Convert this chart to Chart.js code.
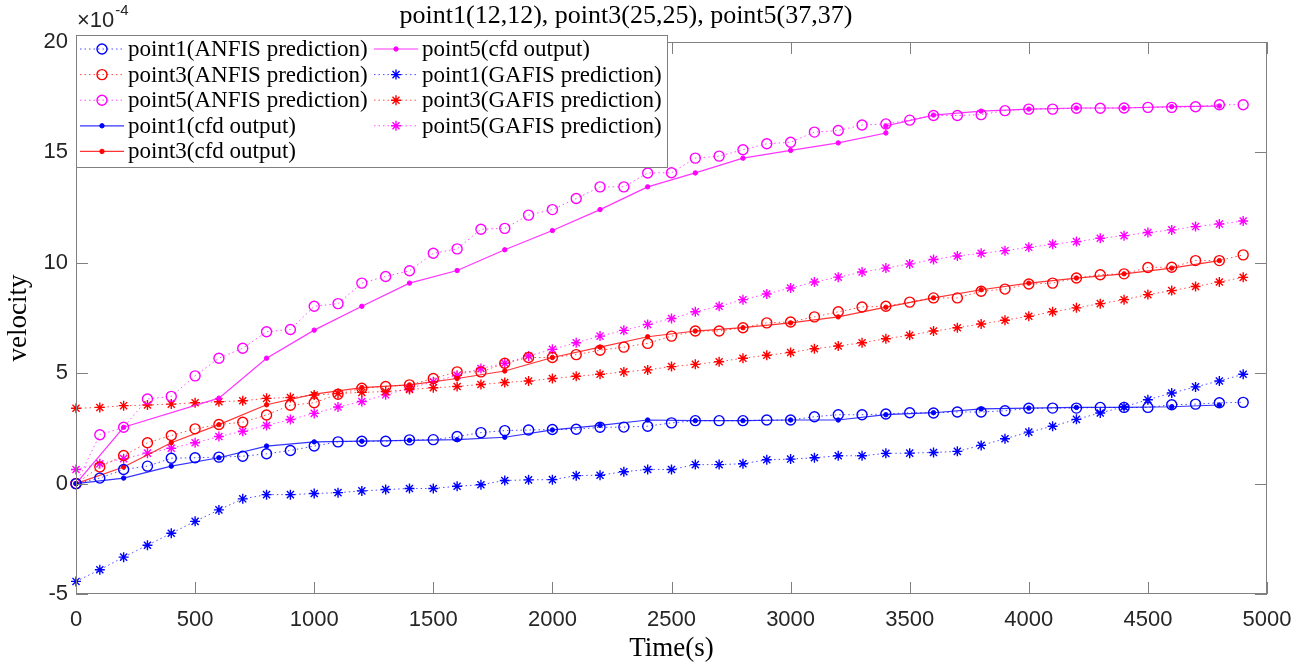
<!DOCTYPE html>
<html lang="en">
<head>
    <meta charset="UTF-8">
    <title>point1(12,12), point3(25,25), point5(37,37)</title>
    <script src="https://cdn.jsdelivr.net/npm/chart.js"></script>
    <style>
        body {
            margin: 0;
            padding: 0;
            background: #ffffff;
        }
        #chart {
            display: block;
        }
    </style>
</head>
<body>
    <canvas id="chart" width="1309" height="665"></canvas>

    <script>
        // time axis (s)
        const timeFine = [0, 100, 200, 300, 400, 500, 600, 700, 800, 900,
            1000, 1100, 1200, 1300, 1400, 1500, 1600, 1700, 1800, 1900,
            2000, 2100, 2200, 2300, 2400, 2500, 2600, 2700, 2800, 2900,
            3000, 3100, 3200, 3300, 3400, 3500, 3600, 3700, 3800, 3900,
            4000, 4100, 4200, 4300, 4400, 4500, 4600, 4700, 4800, 4900];
        const timeCfd = [0, 200, 400, 600, 800, 1000, 1200, 1400, 1600, 1800,
            2000, 2200, 2400, 2600, 2800, 3000, 3200, 3400, 3600, 3800,
            4000, 4200, 4400, 4600, 4800];
        const timeCfd5 = [0, 200, 600, 800, 1000, 1200, 1400, 1600, 1800,
            2000, 2200, 2400, 2600, 2800, 3000, 3200, 3400, 3400, 3600, 3800,
            4000, 4200, 4400, 4600, 4800];

        // velocity values, x 1e-4
        const p1Anfis = [0, 0.25, 0.64, 0.79, 1.15, 1.17, 1.20, 1.24, 1.35, 1.50,
            1.70, 1.89, 1.92, 1.92, 1.98, 1.99, 2.13, 2.31, 2.40, 2.43,
            2.45, 2.46, 2.55, 2.56, 2.60, 2.75, 2.85, 2.85, 2.85, 2.88,
            2.88, 3.03, 3.12, 3.12, 3.15, 3.21, 3.20, 3.24, 3.24, 3.30,
            3.41, 3.42, 3.42, 3.45, 3.45, 3.45, 3.57, 3.60, 3.66, 3.68];
        const p3Anfis = [0, 0.75, 1.27, 1.85, 2.18, 2.48, 2.68, 2.78, 3.11, 3.55,
            3.66, 4.05, 4.32, 4.40, 4.47, 4.76, 5.06, 5.06, 5.45, 5.71,
            5.71, 5.84, 6.04, 6.18, 6.35, 6.68, 6.91, 6.91, 7.06, 7.28,
            7.32, 7.55, 7.78, 8.00, 8.03, 8.22, 8.41, 8.41, 8.71, 8.81,
            9.04, 9.08, 9.31, 9.46, 9.50, 9.79, 9.80, 10.10, 10.10, 10.36];
        const p5Anfis = [0, 2.21, 2.55, 3.83, 3.95, 4.88, 5.68, 6.13, 6.88, 6.98,
            8.03, 8.15, 9.08, 9.38, 9.64, 10.43, 10.63, 11.52, 11.56, 12.16,
            12.41, 12.91, 13.44, 13.44, 14.07, 14.08, 14.74, 14.83, 15.12, 15.39,
            15.46, 15.92, 15.99, 16.24, 16.29, 16.46, 16.67, 16.67, 16.71, 16.89,
            16.96, 16.96, 17.00, 17.00, 17.01, 17.04, 17.04, 17.07, 17.16, 17.16];

        const p1Cfd = [0, 0.25, 0.79, 1.17, 1.70, 1.89, 1.92, 1.96, 1.99, 2.10,
            2.43, 2.64, 2.88, 2.85, 2.85, 2.88, 2.88, 3.12, 3.21, 3.38,
            3.42, 3.45, 3.45, 3.48, 3.56];
        const p3Cfd = [0, 0.75, 1.85, 2.67, 3.57, 4.05, 4.35, 4.47, 4.76, 5.10,
            5.71, 6.18, 6.65, 6.91, 7.06, 7.28, 7.55, 7.99, 8.41, 8.78,
            9.08, 9.31, 9.50, 9.76, 10.10];
        const p5Cfd = [0, 2.55, 3.87, 5.68, 6.95, 8.03, 9.08, 9.65, 10.59,
            11.46, 12.41, 13.44, 14.07, 14.74, 15.09, 15.43, 15.88, 16.20, 16.69, 16.87,
            16.96, 17.01, 17.01, 17.07, 17.10];

        const p1Gafis = [-4.43, -3.90, -3.33, -2.79, -2.25, -1.71, -1.19, -0.69, -0.50, -0.50,
            -0.45, -0.41, -0.33, -0.27, -0.22, -0.22, -0.12, -0.05, 0.14, 0.17,
            0.18, 0.36, 0.38, 0.54, 0.64, 0.64, 0.86, 0.86, 0.90, 1.08,
            1.11, 1.17, 1.26, 1.26, 1.37, 1.38, 1.41, 1.46, 1.73, 2.03,
            2.33, 2.60, 2.91, 3.20, 3.48, 3.80, 4.10, 4.38, 4.65, 4.95];
        const p3Gafis = [3.41, 3.45, 3.53, 3.56, 3.60, 3.66, 3.71, 3.75, 3.86, 3.90,
            4.01, 4.08, 4.13, 4.17, 4.26, 4.34, 4.40, 4.49, 4.58, 4.65,
            4.76, 4.86, 4.95, 5.06, 5.15, 5.30, 5.40, 5.52, 5.68, 5.81,
            5.94, 6.11, 6.23, 6.38, 6.56, 6.72, 6.91, 7.06, 7.23, 7.40,
            7.58, 7.78, 7.96, 8.15, 8.33, 8.56, 8.74, 8.93, 9.13, 9.34];
        const p5Gafis = [0.64, 0.90, 1.13, 1.38, 1.60, 1.85, 2.13, 2.37, 2.63, 2.90,
            3.18, 3.47, 3.72, 4.02, 4.32, 4.61, 4.91, 5.21, 5.45, 5.78,
            6.08, 6.38, 6.68, 6.94, 7.21, 7.48, 7.78, 8.03, 8.33, 8.59,
            8.86, 9.13, 9.35, 9.58, 9.76, 9.95, 10.15, 10.31, 10.43, 10.55,
            10.70, 10.84, 10.96, 11.11, 11.23, 11.37, 11.49, 11.64, 11.76, 11.89];

        const xTicks = [0, 500, 1000, 1500, 2000, 2500, 3000, 3500, 4000, 4500, 5000];
        const yTicks = [-5, 0, 5, 10, 15, 20];

        const BLUE = '#0000ff';
        const RED = '#ff0000';
        const MAGENTA = '#ff00ff';
        const frameColor = '#808080';
        const textColor = '#262626';
        const serif = '"Liberation Serif", "Times New Roman", serif';
        const sans = '"Liberation Sans", Arial, sans-serif';

        function pairs(xs, ys) {
            return xs.map((t, i) => ({ x: t, y: ys[i] }));
        }

        function fade(hex, a) {
            const r = parseInt(hex.slice(1, 3), 16);
            const g = parseInt(hex.slice(3, 5), 16);
            const b = parseInt(hex.slice(5, 7), 16);
            return `rgba(${r}, ${g}, ${b}, ${a})`;
        }

        function anfis(label, color, ys) {
            return {
                label, data: pairs(timeFine, ys), kind: 'dotted',
                borderColor: fade(color, 0.7), borderWidth: 1, borderDash: [1.5, 3],
                pointStyle: 'circle', pointRadius: 5, pointBorderWidth: 1.4,
                pointBorderColor: color, pointBackgroundColor: 'rgba(0,0,0,0)',
                clip: false
            };
        }
        function cfd(label, color, xs, ys) {
            return {
                label, data: pairs(xs, ys), kind: 'solid',
                borderColor: fade(color, 0.8), borderWidth: 1.2,
                pointStyle: 'circle', pointRadius: 2.2, pointBorderWidth: 1,
                pointBorderColor: color, pointBackgroundColor: color,
                clip: false
            };
        }
        function gafis(label, color, ys) {
            return {
                label, data: pairs(timeFine, ys), kind: 'dotted',
                borderColor: fade(color, 0.7), borderWidth: 1, borderDash: [1.5, 3],
                pointStyle: 'star', pointRadius: 5, pointBorderWidth: 1.4,
                pointBorderColor: color, pointBackgroundColor: color,
                clip: false
            };
        }

        const datasets = [
            anfis('point1(ANFIS prediction)', BLUE, p1Anfis),
            anfis('point3(ANFIS prediction)', RED, p3Anfis),
            anfis('point5(ANFIS prediction)', MAGENTA, p5Anfis),
            cfd('point1(cfd output)', BLUE, timeCfd, p1Cfd),
            cfd('point3(cfd output)', RED, timeCfd, p3Cfd),
            cfd('point5(cfd output)', MAGENTA, timeCfd5, p5Cfd),
            gafis('point1(GAFIS prediction)', BLUE, p1Gafis),
            gafis('point3(GAFIS prediction)', RED, p3Gafis),
            gafis('point5(GAFIS prediction)', MAGENTA, p5Gafis)
        ];

        // frame, inward ticks, legend box and the extra texts (MATLAB look)
        const decorPlugin = {
            id: 'decor',
            afterDraw(chart) {
                const { ctx, chartArea: a, scales: { x, y } } = chart;
                ctx.save();

                ctx.strokeStyle = frameColor;
                ctx.lineWidth = 1;
                ctx.setLineDash([]);
                ctx.strokeRect(Math.round(a.left) + 0.5, Math.round(a.top) + 0.5,
                    Math.round(a.width) - 1, Math.round(a.height) - 1);

                const tl = 12;
                ctx.beginPath();
                xTicks.forEach(v => {
                    const px = Math.round(x.getPixelForValue(v)) + 0.5;
                    ctx.moveTo(px, a.bottom); ctx.lineTo(px, a.bottom - tl);
                    ctx.moveTo(px, a.top); ctx.lineTo(px, a.top + tl);
                });
                yTicks.forEach(v => {
                    const py = Math.round(y.getPixelForValue(v)) + 0.5;
                    ctx.moveTo(a.left, py); ctx.lineTo(a.left + tl, py);
                    ctx.moveTo(a.right, py); ctx.lineTo(a.right - tl, py);
                });
                ctx.stroke();

                // legend, two columns, five rows
                const box = { left: 76.5, top: 35.5, right: 667.5, bottom: 167.5 };
                ctx.fillStyle = '#ffffff';
                ctx.fillRect(box.left, box.top, box.right - box.left, box.bottom - box.top);
                ctx.strokeStyle = frameColor;
                ctx.strokeRect(box.left, box.top, box.right - box.left, box.bottom - box.top);

                const colX = [80, 374];
                ctx.font = `23px ${serif}`;
                ctx.textBaseline = 'middle';
                ctx.textAlign = 'left';
                chart.data.datasets.forEach((ds, i) => {
                    const col = Math.floor(i / 5);
                    const row = i % 5;
                    const lx = colX[col];
                    const ly = 49 + row * 25.6;
                    ctx.strokeStyle = ds.borderColor;
                    ctx.lineWidth = ds.borderWidth;
                    ctx.setLineDash(ds.kind === 'dotted' ? [1.5, 3] : []);
                    ctx.beginPath();
                    ctx.moveTo(lx, ly); ctx.lineTo(lx + 44, ly);
                    ctx.stroke();
                    ctx.setLineDash([]);
                    ctx.strokeStyle = ds.pointBorderColor;
                    ctx.fillStyle = ds.pointBackgroundColor;
                    ctx.lineWidth = ds.pointBorderWidth;
                    Chart.helpers.drawPoint(ctx, {
                        pointStyle: ds.pointStyle, radius: ds.pointRadius,
                        rotation: 0, borderWidth: ds.pointBorderWidth
                    }, lx + 22, ly);
                    ctx.fillStyle = '#000000';
                    ctx.fillText(ds.label, lx + 48, ly + 1);
                });

                // title
                ctx.fillStyle = '#000000';
                ctx.textAlign = 'center';
                ctx.font = `26px ${serif}`;
                ctx.fillText('point1(12,12), point3(25,25), point5(37,37)', 626, 16);

                // axis titles
                ctx.font = `27px ${serif}`;
                ctx.fillText('Time(s)', (a.left + a.right) / 2, 649);
                ctx.save();
                ctx.translate(19, (a.top + a.bottom) / 2);
                ctx.rotate(-Math.PI / 2);
                ctx.fillText('velocity', 0, 0);
                ctx.restore();

                // exponent
                ctx.fillStyle = textColor;
                ctx.textAlign = 'left';
                ctx.font = `22px ${sans}`;
                ctx.fillText('\u00d710', 77, 21);
                const w = ctx.measureText('\u00d710').width;
                ctx.font = `15px ${sans}`;
                ctx.fillText('-4', 77 + w + 1, 11);

                ctx.restore();
            }
        };

        const ctx = document.getElementById('chart').getContext('2d');
        const chart = new Chart(ctx, {
            type: 'line',
            data: { datasets: datasets },
            options: {
                responsive: false,
                animation: false,
                layout: { padding: { top: 42, right: 42, left: 0, bottom: 0 } },
                elements: { line: { tension: 0 } },
                plugins: {
                    legend: { display: false },
                    title: { display: false },
                    tooltip: { enabled: false }
                },
                scales: {
                    x: {
                        type: 'linear',
                        min: 0,
                        max: 5000,
                        afterBuildTicks: s => { s.ticks = xTicks.map(v => ({ value: v })); },
                        ticks: {
                            color: textColor,
                            font: { family: sans, size: 22 },
                            padding: 13,
                            maxRotation: 0,
                            callback: v => String(v)
                        },
                        grid: { display: false, drawTicks: false },
                        border: { display: false },
                        afterFit: s => { s.height = 71; }
                    },
                    y: {
                        type: 'linear',
                        min: -5,
                        max: 20,
                        afterBuildTicks: s => { s.ticks = yTicks.map(v => ({ value: v })); },
                        ticks: {
                            color: textColor,
                            font: { family: sans, size: 22 },
                            padding: 8,
                            callback: v => String(v)
                        },
                        grid: { display: false, drawTicks: false },
                        border: { display: false },
                        afterFit: s => { s.width = 76; }
                    }
                }
            },
            plugins: [decorPlugin]
        });
    </script>
</body>
</html>
